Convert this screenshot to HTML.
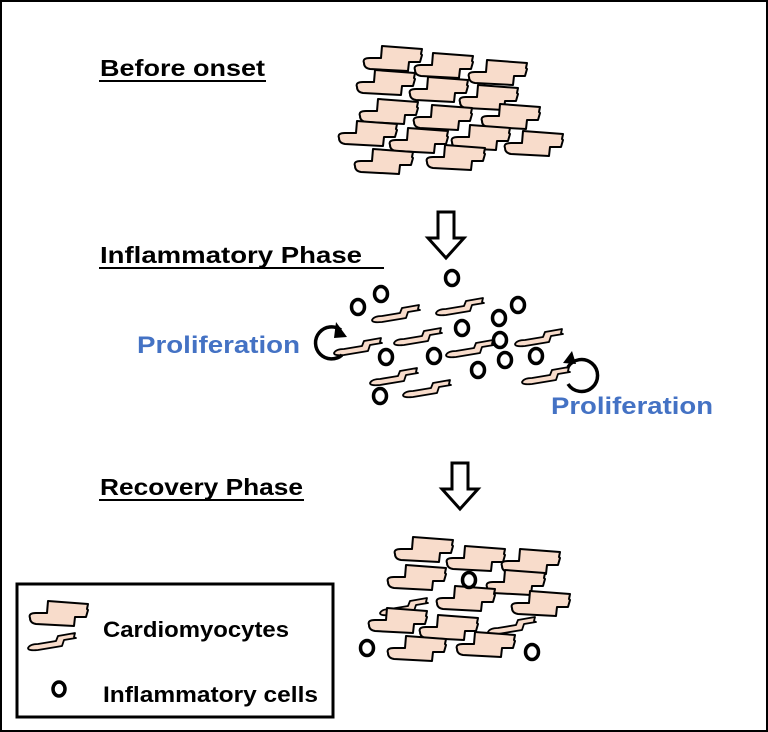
<!DOCTYPE html>
<html><head><style>
html,body{margin:0;padding:0;background:#fff}
svg{display:block}
text{font-family:"Liberation Sans",Arial,sans-serif;font-weight:bold}
</style></head><body>
<svg width="768" height="732" viewBox="0 0 768 732" xmlns="http://www.w3.org/2000/svg">
<defs>
<path id="c" d="M2,17 Q0,12 8,12 L19,12 L20,0 L60,3 L59,8 L60,9 L58,16 L47,16 L46,25 L8,23 Q2,22 2,17 Z" fill="#f8dccb" stroke="#000" stroke-width="2" stroke-linejoin="round"/>
<path id="s" d="M0,15 Q2,11 10,11 L28,8 L30,3 L47,0 L46,4 L48,5 L36,7 L34,13 L10,17 Q0,18 0,15 Z" fill="#f8dccb" stroke="#000" stroke-width="1.8" stroke-linejoin="round"/>
<path id="dn" d="M-8,0 L8,0 L8,26 L18,26 L0,46 L-18,26 L-8,26 Z" fill="#fff" stroke="#000" stroke-width="3" stroke-linejoin="miter"/>
</defs>
<rect x="1" y="1" width="766" height="730" fill="#fff" stroke="#000" stroke-width="2"/>

<text x="100" y="76" font-size="23" textLength="165" lengthAdjust="spacingAndGlyphs">Before onset</text>
<line x1="99" y1="81" x2="266" y2="81" stroke="#000" stroke-width="2"/>
<text x="100" y="263" font-size="23" textLength="262" lengthAdjust="spacingAndGlyphs">Inflammatory Phase</text>
<line x1="99" y1="268" x2="384" y2="268" stroke="#000" stroke-width="2"/>
<text x="100" y="495" font-size="23" textLength="203" lengthAdjust="spacingAndGlyphs">Recovery Phase</text>
<line x1="99" y1="500" x2="304" y2="500" stroke="#000" stroke-width="2"/>

<text x="137" y="353" font-size="24" fill="#4472c4" textLength="163" lengthAdjust="spacingAndGlyphs">Proliferation</text>
<text x="551" y="414" font-size="24" fill="#4472c4" textLength="162" lengthAdjust="spacingAndGlyphs">Proliferation</text>

<!-- top cluster -->
<use href="#c" x="362" y="46"/><use href="#c" x="413" y="53"/><use href="#c" x="467" y="60"/>
<use href="#c" x="355" y="70"/><use href="#c" x="408" y="77"/><use href="#c" x="458" y="85"/>
<use href="#c" x="358" y="99"/><use href="#c" x="412" y="105"/><use href="#c" x="480" y="104"/>
<use href="#c" x="337" y="121"/><use href="#c" x="388" y="128"/><use href="#c" x="450" y="125"/><use href="#c" x="503" y="131"/>
<use href="#c" x="353" y="149"/><use href="#c" x="425" y="145"/>

<use href="#dn" x="446" y="212"/>
<use href="#dn" x="460" y="463"/>

<!-- inflammatory -->
<g>
<use href="#s" x="372" y="305"/><use href="#s" x="436" y="298"/><use href="#s" x="334" y="338"/>
<use href="#s" x="394" y="328"/><use href="#s" x="446" y="340"/><use href="#s" x="515" y="329"/>
<use href="#s" x="370" y="368"/><use href="#s" x="403" y="380"/><use href="#s" x="522" y="367"/>
</g>
<g fill="none" stroke="#000" stroke-width="3.5">
<ellipse cx="452" cy="278" rx="6.5" ry="7.5"/><ellipse cx="381" cy="294" rx="6.5" ry="7.5"/><ellipse cx="358" cy="307" rx="6.5" ry="7.5"/>
<ellipse cx="518" cy="305" rx="6.5" ry="7.5"/><ellipse cx="499" cy="318" rx="6.5" ry="7.5"/><ellipse cx="462" cy="328" rx="6.5" ry="7.5"/>
<ellipse cx="500" cy="340" rx="6.5" ry="7.5"/><ellipse cx="386" cy="357" rx="6.5" ry="7.5"/><ellipse cx="434" cy="356" rx="6.5" ry="7.5"/>
<ellipse cx="536" cy="356" rx="6.5" ry="7.5"/><ellipse cx="505" cy="360" rx="6.5" ry="7.5"/><ellipse cx="478" cy="370" rx="6.5" ry="7.5"/>
<ellipse cx="380" cy="396" rx="6.5" ry="7.5"/>
<path d="M341,330 A16,16 0 1 0 342,355"/>
<path d="M568,367 A16,16 0 1 1 568,384"/>
</g>
<path d="M336,322 L347,337 L334,338 Z" fill="#000"/>
<path d="M563,363 L572,351 L576,364 Z" fill="#000"/>

<!-- recovery -->
<use href="#c" x="393" y="537"/><use href="#c" x="445" y="546"/><use href="#c" x="500" y="549"/>
<use href="#c" x="386" y="565"/><use href="#c" x="485" y="570"/>
<use href="#s" x="380" y="598"/><use href="#c" x="435" y="586"/><use href="#c" x="510" y="591"/>
<use href="#s" x="488" y="617"/>
<use href="#c" x="367" y="608"/><use href="#c" x="418" y="615"/>
<use href="#c" x="386" y="636"/><use href="#c" x="455" y="632"/>
<g fill="none" stroke="#000" stroke-width="3.5">
<ellipse cx="469" cy="580" rx="6.5" ry="7.5"/><ellipse cx="367" cy="648" rx="6.5" ry="7.5"/><ellipse cx="532" cy="652" rx="6.5" ry="7.5"/>
</g>

<!-- legend -->
<rect x="17" y="584" width="316" height="133" fill="#fff" stroke="#000" stroke-width="3"/>
<use href="#c" x="28" y="601"/>
<use href="#s" x="28" y="633"/>
<ellipse cx="59" cy="689" rx="6" ry="7" fill="none" stroke="#000" stroke-width="3.5"/>
<text x="103" y="637" font-size="22" textLength="186" lengthAdjust="spacingAndGlyphs">Cardiomyocytes</text>
<text x="103" y="702" font-size="22" textLength="215" lengthAdjust="spacingAndGlyphs">Inflammatory cells</text>
</svg>
</body></html>
